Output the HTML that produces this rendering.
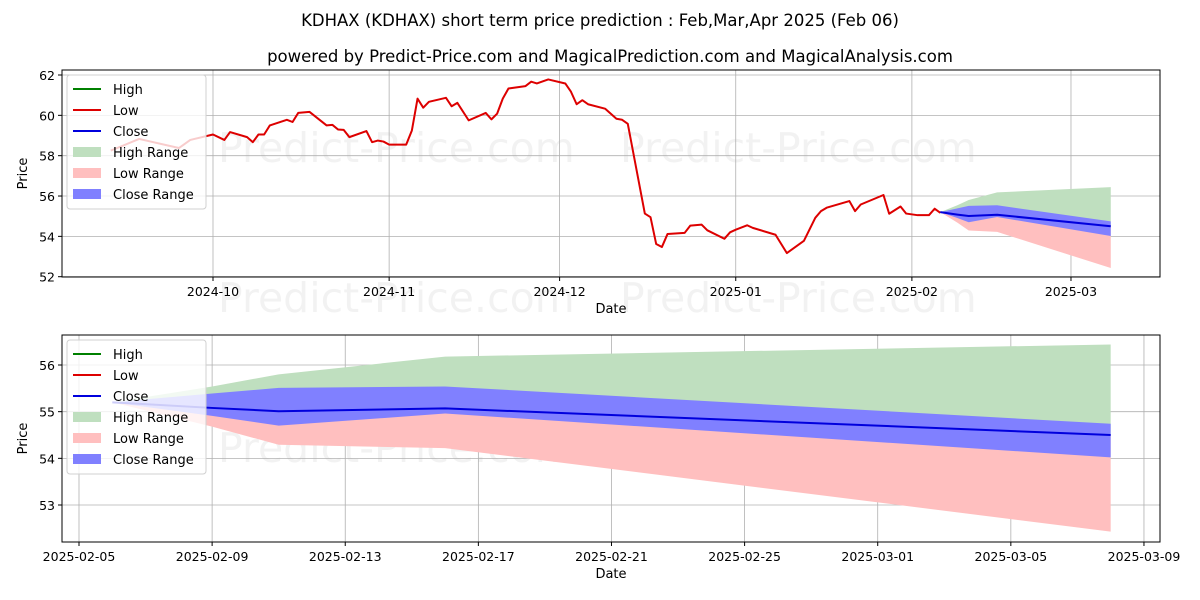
<!DOCTYPE html>
<html><head><meta charset="utf-8"><style>
body{margin:0;background:#fff;}
svg{display:block;font-family:"DejaVu Sans","Liberation Sans",sans-serif;}
</style></head><body>
<svg id="chart" width="1200" height="600" viewBox="0 0 1200 600">
<rect width="1200" height="600" fill="#fff"/>
<text x="600" y="26" text-anchor="middle" font-size="16.5">KDHAX (KDHAX) short term price prediction : Feb,Mar,Apr 2025 (Feb 06)</text>
<text x="610" y="62" text-anchor="middle" font-size="16.5">powered by Predict-Price.com and MagicalPrediction.com and MagicalAnalysis.com</text>
<g id="top"></g>
<g id="bot"></g>
</svg>
<script>
// historical Low series: day offset from 2024-10-01, price
const histDays=[-18,-13,-6,-4,0,2,3,6,7,8,9,10,13,14,15,17,20,21,22,23,24,27,28,29,30,31,34,35,36,37,38,41,42,43,45,48,49,50,51,52,55,56,57,59,62,63,64,65,66,69,71,72,73,76,77,78,79,80,83,84,86,87,90,91,92,94,95,99,101,104,106,107,108,112,113,114,118,119,121,122,124,126,127,128];
const histVals=[58.25,58.83,58.38,58.78,59.05,58.78,59.17,58.92,58.67,59.05,59.05,59.5,59.78,59.67,60.12,60.17,59.5,59.53,59.3,59.28,58.92,59.22,58.67,58.75,58.7,58.55,58.55,59.25,60.83,60.38,60.67,60.87,60.45,60.62,59.75,60.12,59.8,60.08,60.83,61.33,61.45,61.67,61.58,61.78,61.58,61.17,60.55,60.75,60.55,60.33,59.83,59.78,59.58,55.13,54.95,53.62,53.47,54.12,54.17,54.53,54.58,54.3,53.88,54.2,54.33,54.55,54.42,54.08,53.17,53.78,54.92,55.25,55.42,55.75,55.25,55.58,56.05,55.12,55.48,55.13,55.05,55.05,55.37,55.17];
// forecast: day offset from 2025-02-05
const fcDays=[1,4,6,11,31];
const fcClose=[55.2,55.08,55.01,55.07,54.5];
const fcCloseUp=[55.2,55.39,55.51,55.54,54.74];
const fcCloseLow=[55.2,54.91,54.7,54.96,54.02];
const fcHighUp=[55.2,55.54,55.8,56.18,56.44];
const fcLowLow=[55.2,54.68,54.29,54.22,52.43];
const topYTicks=[52,54,56,58,60,62];
const topXTicks=[0,31,61,92,123,151];
const topXLabels=["2024-10","2024-11","2024-12","2025-01","2025-02","2025-03"];
const botYTicks=[53,54,55,56];
const botXTicks=[0,4,8,12,16,20,24,28,32];
const botXLabels=["2025-02-05","2025-02-09","2025-02-13","2025-02-17","2025-02-21","2025-02-25","2025-03-01","2025-03-05","2025-03-09"];

const NS="http://www.w3.org/2000/svg";
function mk(p,t,a){const e=document.createElementNS(NS,t);for(const k in a)e.setAttribute(k,a[k]);p.appendChild(e);return e;}

function panel(g,o){
  const {L,R,T,B,sx,sy}=o;
  o.wm.forEach(w=>{const t=mk(g,'text',{x:w[0],y:w[1],'font-size':41,fill:'#000','fill-opacity':0.05});
    t.textContent='Predict-Price.com';
    
    });
  o.yt.forEach(v=>{const y=sy(v);
    const l=mk(g,'line',{x1:L,x2:R,y1:y,y2:y,stroke:'#b0b0b0','stroke-width':0.8});
    
    
    mk(g,'line',{x1:L-4,x2:L,y1:y,y2:y,stroke:'#000'});
    const t=mk(g,'text',{x:L-7,y:y+5,'text-anchor':'end','font-size':12.5});
    t.textContent=v;
    
    });
  o.xt.forEach((d,i)=>{const x=sx(d);
    const l=mk(g,'line',{x1:x,x2:x,y1:T,y2:B,stroke:'#b0b0b0','stroke-width':0.8});
    
    
    mk(g,'line',{x1:x,x2:x,y1:B,y2:B+4,stroke:'#000'});
    const t=mk(g,'text',{x:x,y:B+19,'text-anchor':'middle','font-size':12.5});
    t.textContent=o.xl[i];
    
    });
  const clip=mk(g,'clipPath',{id:o.id+'c'});mk(clip,'rect',{x:L,y:T,width:R-L,height:B-T});
  const pg=mk(g,'g',{'clip-path':'url(#'+o.id+'c)'});
  function band(up,lo,fill,name){
    let d='';fcDays.forEach((dd,i)=>{d+=(i?'L':'M')+o.fx(dd)+','+sy(up[i]);});
    for(let i=fcDays.length-1;i>=0;i--)d+='L'+o.fx(fcDays[i])+','+sy(lo[i]);
    const p=mk(pg,'path',{d:d+'Z',fill:fill});
    
    }
  band(fcHighUp,fcClose,'#bfdfbf','high-range-band');
  band(fcClose,fcLowLow,'#ffbfbf','low-range-band');
  band(fcCloseUp,fcCloseLow,'#8080ff','close-range-band');
  if(o.hist){let d='';histDays.forEach((dd,i)=>{d+=(i?'L':'M')+sx(dd)+','+sy(histVals[i]);});
    const p=mk(pg,'path',{d:d,fill:'none',stroke:'#dd0000','stroke-width':2,'stroke-linejoin':'round'});
    
    }
  let d='';fcDays.forEach((dd,i)=>{d+=(i?'L':'M')+o.fx(dd)+','+sy(fcClose[i]);});
  const cl=mk(pg,'path',{d:d,fill:'none',stroke:'#0000dd','stroke-width':2});
  
  
  const fr=mk(g,'rect',{x:L,y:T,width:R-L,height:B-T,fill:'none',stroke:'#000','stroke-width':1});
  
  
  const xt=mk(g,'text',{x:(L+R)/2,y:B+36,'text-anchor':'middle','font-size':13});xt.textContent='Date';
  
  
  const yt=mk(g,'text',{x:27,y:(T+B)/2,'text-anchor':'middle','font-size':13,transform:'rotate(-90 27 '+(T+B)/2+')'});yt.textContent='Price';
  
  
  const lg=mk(g,'g',{});
  
  
  mk(lg,'rect',{x:67,y:T+5,width:139,height:134,rx:3,fill:'#fff','fill-opacity':0.8,stroke:'#d0d0d0'});
  const items=[['High','line','#008000'],['Low','line','#dd0000'],['Close','line','#0000dd'],['High Range','box','#bfdfbf'],['Low Range','box','#ffbfbf'],['Close Range','box','#8080ff']];
  items.forEach((it,i)=>{const y=T+19+i*21;
    if(it[1]=='line')mk(lg,'line',{x1:73,x2:101,y1:y,y2:y,stroke:it[2],'stroke-width':2});
    else mk(lg,'rect',{x:73,y:y-5,width:28,height:10,fill:it[2]});
    const t=mk(lg,'text',{x:113,y:y+5,'font-size':13});t.textContent=it[0];
    
    });
}
const tsx=d=>213+d*5.682, tsy=v=>75+(62-v)*20.17;
panel(document.getElementById('top'),{id:'t',L:62,R:1160,T:70,B:277,sx:tsx,sy:tsy,fx:d=>tsx(d+127),hist:true,
  yt:topYTicks,xt:topXTicks,xl:topXLabels,wm:[[218,162],[620,162],[218,312]]});
const bsx=d=>79+d*33.28, bsy=v=>365+(56-v)*46.67;
panel(document.getElementById('bot'),{id:'b',L:62,R:1160,T:335,B:542,sx:bsx,sy:bsy,fx:bsx,hist:false,
  yt:botYTicks,xt:botXTicks,xl:botXLabels,wm:[[620,312],[218,462],[620,462]]});
</script>
</body></html>
